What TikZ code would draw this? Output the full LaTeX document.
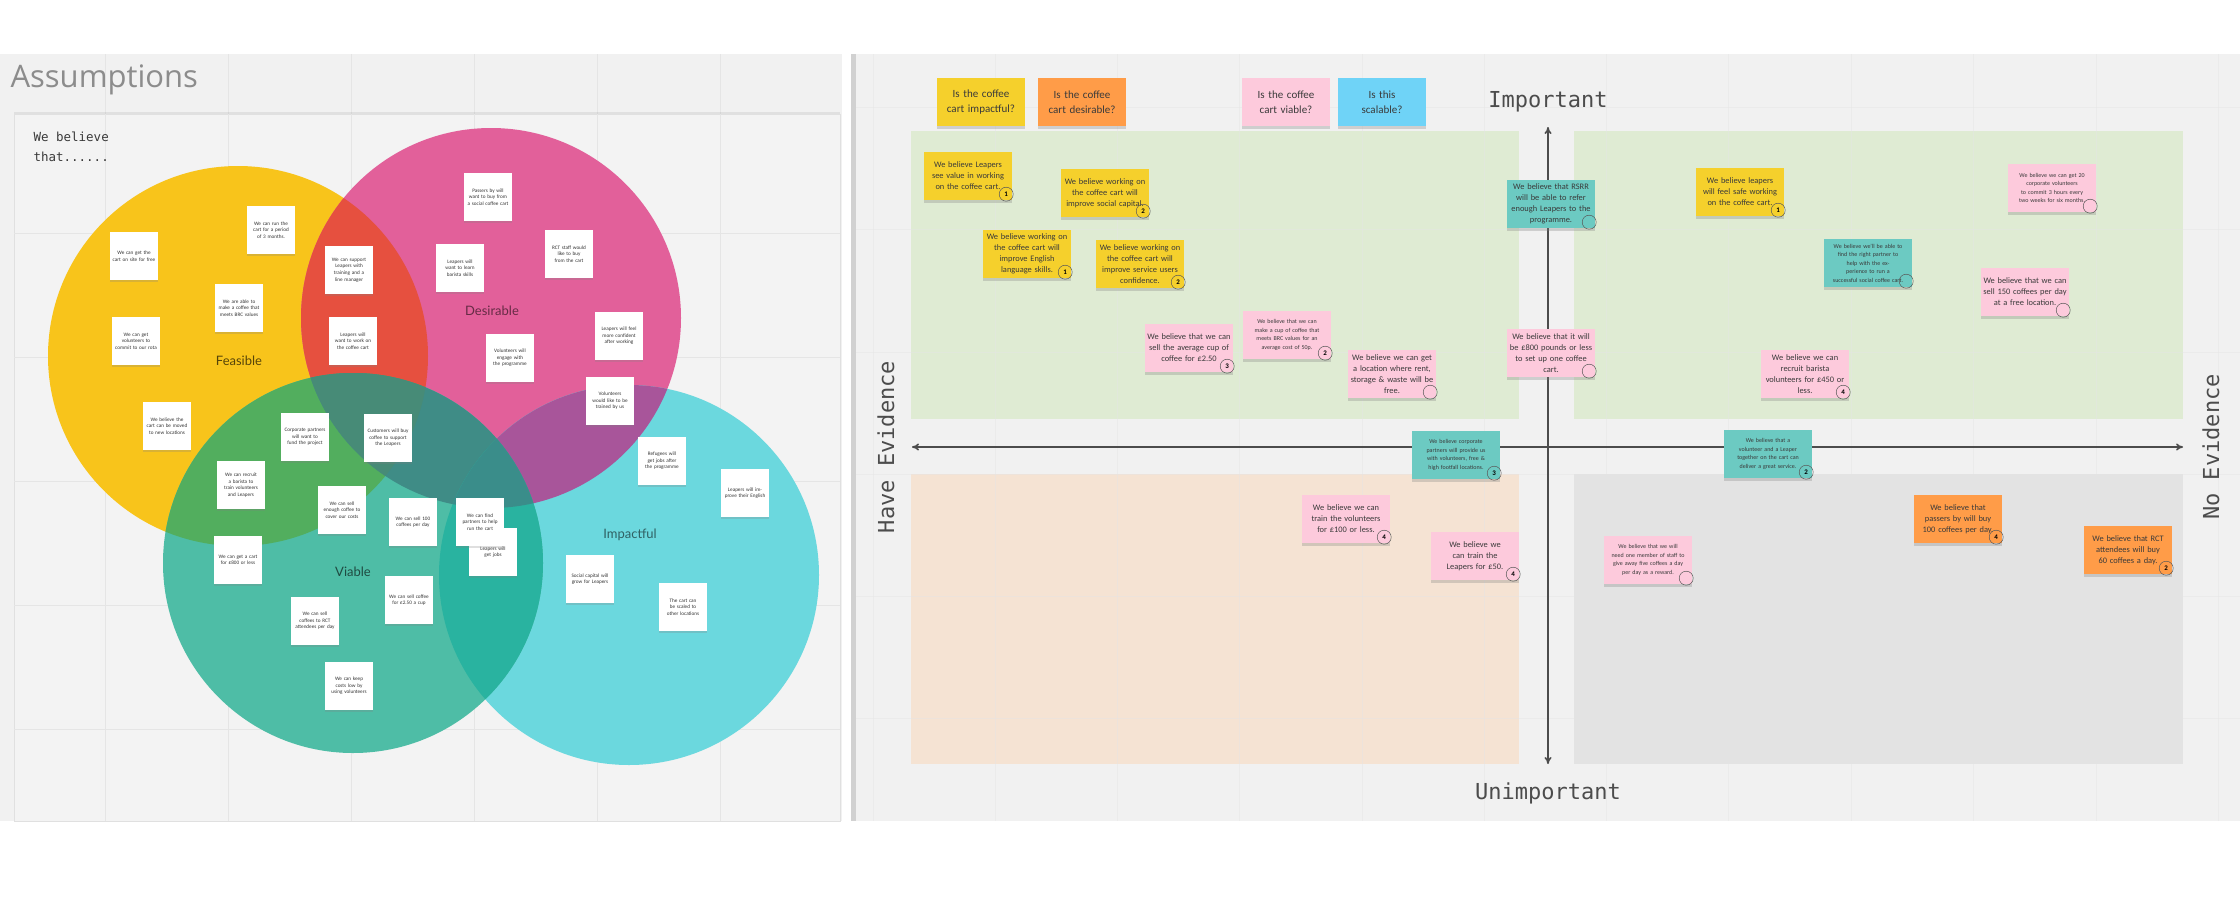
\documentclass[tikz,border=0pt]{standalone}
\usepackage{fontspec}
\setmainfont{Carlito}
\newfontfamily\titlefont{Open Sans}
\newfontfamily\labelfont{Lato}
\newfontfamily\monofont{DejaVu Sans Mono}
\usepackage{tikz}
\usetikzlibrary{arrows.meta,positioning,shadows,calc}
\definecolor{panelbg}{HTML}{F1F1F1}
\definecolor{framebg}{HTML}{F3F3F3}
\definecolor{gridcol}{HTML}{E5E5E5}
\definecolor{feasible}{HTML}{F8C41B}
\definecolor{desirable}{HTML}{E2609A}
\definecolor{viable}{HTML}{4EBDA6}
\definecolor{impactful}{HTML}{6BD8DE}
\definecolor{fdover}{HTML}{E6503F}
\definecolor{fvover}{HTML}{52AE5E}
\definecolor{dvover}{HTML}{3F8C86}
\definecolor{diover}{HTML}{A8559A}
\definecolor{viover}{HTML}{29B3A0}
\definecolor{fdvover}{HTML}{478B77}
\definecolor{dviover}{HTML}{3A8D8A}
\definecolor{stickyyellow}{HTML}{F5D02C}
\definecolor{stickyorange}{HTML}{FF9C48}
\definecolor{stickypink}{HTML}{FDCADC}
\definecolor{stickyblue}{HTML}{6FD3F7}
\definecolor{stickyteal}{HTML}{6CCAC2}
\definecolor{quadgreen}{HTML}{DFEBD3}
\definecolor{quadorange}{HTML}{F5E3D3}
\definecolor{quadgray}{HTML}{E3E3E3}
\definecolor{inktext}{HTML}{3A3A3A}
\tikzset{
  gridline/.style={draw=gridcol, line width=1pt},
  vnote/.style={
    fill=white, minimum width=48pt, minimum height=48pt, text width=43pt,
    align=center, inner sep=2pt, text=black!80,
    font=\fontsize{5.2}{6.6}\selectfont,
    drop shadow={shadow xshift=0pt, shadow yshift=-2pt, opacity=.25},
  },
  sticky/.style={
    fill=#1, minimum width=88pt, minimum height=48pt, text width=84pt,
    align=center, inner sep=2pt, text=inktext,
    font=\fontsize{8.4}{11}\selectfont,
    drop shadow={shadow xshift=0pt, shadow yshift=-3pt, opacity=.3},
  },
  smalltext/.style={font=\fontsize{6}{8.5}\selectfont},
  catnote/.style={sticky=#1, font=\fontsize{11}{15}\selectfont},
  numtag/.style={circle, draw=black!65, line width=.5pt, inner sep=0pt,
    minimum size=14pt, font=\fontsize{7}{7}\selectfont\bfseries},
  axis/.style={{To[length=7pt,width=7pt]}-{To[length=7pt,width=7pt]},
    draw=black!70, line width=1.6pt},
  axislabel/.style={font=\monofont\fontsize{22}{22}\selectfont, text=black!70},
  vennlabel/.style={font=\labelfont\fontsize{13}{13}\selectfont},
}
\newcommand{\notenum}[2]{\node[numtag] (#1num) at ([xshift=-6pt,yshift=6pt]#1.south east) {#2};}

\begin{document}
\begin{tikzpicture}[x=1pt,y=-1pt]
\useasboundingbox[fill=white] (0,0) rectangle (2240,900);

% ---------- left panel: Venn ----------
\fill[panelbg] (0,54) rectangle (842,821);
\foreach \gx in {105,228,351,474,597,720}
  \draw[gridline] (\gx,54) -- (\gx,821);
\path[fill=framebg, draw=black!12, drop shadow={shadow xshift=0pt, shadow yshift=2pt, opacity=.15}]
  (14,114) rectangle (840,821);
\foreach \gx in {105,228,351,474,597,720}
  \draw[gridline] (\gx,114) -- (\gx,821);
\foreach \gy in {233,357,481,605,729}
  \draw[gridline] (14,\gy) -- (840,\gy);

\node[font=\titlefont\fontsize{31}{31}\selectfont, text=black!45, anchor=west] (title) at (7,80) {Assumptions};
\node[font=\monofont\fontsize{12.5}{20}\selectfont, text=inktext, align=left, anchor=north west] (webelieve) at (30,128) {We believe\\that......};

\coordinate (feas) at (238,356);
\coordinate (desi) at (491,318);
\coordinate (viab) at (353,563);
\coordinate (impa) at (629,575);

\fill[feasible] (feas) circle[radius=190];
\fill[desirable] (desi) circle[radius=190];
\fill[impactful] (impa) circle[radius=190];
\fill[viable] (viab) circle[radius=190];
\begin{scope}
  \clip (feas) circle[radius=190];
  \fill[fdover] (desi) circle[radius=190];
  \fill[fvover] (viab) circle[radius=190];
\end{scope}
\begin{scope}
  \clip (desi) circle[radius=190];
  \fill[diover] (impa) circle[radius=190];
  \fill[dvover] (viab) circle[radius=190];
\end{scope}
\begin{scope}
  \clip (viab) circle[radius=190];
  \fill[viover] (impa) circle[radius=190];
\end{scope}
\begin{scope}
  \clip (feas) circle[radius=190];
  \clip (desi) circle[radius=190];
  \fill[fdvover] (viab) circle[radius=190];
\end{scope}
\begin{scope}
  \clip (desi) circle[radius=190];
  \clip (impa) circle[radius=190];
  \fill[dviover] (viab) circle[radius=190];
\end{scope}

\node[vennlabel, text=black!65!feasible] (feaslabel) at (239,361) {Feasible};
\node[vennlabel, text=black!55!desirable] (desilabel) at (492,311) {Desirable};
\node[vennlabel, text=black!60!viable] (viablabel) at (353,572) {Viable};
\node[vennlabel, text=black!55!impactful] (impalabel) at (630,535) {Impactful};

% white notes
\node[vnote] (vn1) at (134,256) {We can get the cart on site for free};
\node[vnote] (vn2) at (271,230) {We can run the cart for a period of 3 months.};
\node[vnote] (vn3) at (239,308) {We are able to make a coffee that meets BRC values};
\node[vnote] (vn4) at (136,341) {We can get volunteers to commit to our rota};
\node[vnote] (vn5) at (349,270) {We can support Leapers with training and a line manager};
\node[vnote] (vn6) at (353,341) {Leapers will want to work on the coffee cart};
\node[vnote] (vn7) at (167,426) {We believe the cart can be moved to new locations};
\node[vnote] (vn8) at (305,437) {Corporate partners will want to fund the project};
\node[vnote] (vn9) at (388,438) {Customers will buy coffee to support the Leapers};
\node[vnote] (vn10) at (241,485) {We can recruit a barista to train volunteers and Leapers};
\node[vnote] (vn11) at (488,197) {Passers by will want to buy from a social coffee cart};
\node[vnote] (vn12) at (460,268) {Leapers will want to learn barista skills};
\node[vnote] (vn13) at (569,254) {RCT staff would like to buy from the cart};
\node[vnote] (vn14) at (510,358) {Volunteers will engage with the programme};
\node[vnote] (vn15) at (619,336) {Leapers will feel more confident after working};
\node[vnote] (vn16) at (610,401) {Volunteers would like to be trained by us};
\node[vnote] (vn17) at (342,510) {We can sell enough coffee to cover our costs};
\node[vnote] (vn18) at (413,522) {We can sell 100 coffees per day};
\node[vnote] (vn19b) at (493,552) {Leapers will get jobs};
\node[vnote] (vn19) at (480,522) {We can find partners to help run the cart};
\node[vnote] (vn20) at (238,560) {We can get a cart for £800 or less};
\node[vnote] (vn21) at (409,600) {We can sell coffee for £2.50 a cup};
\node[vnote] (vn22) at (315,621) {We can sell coffees to RCT attendees per day};
\node[vnote] (vn23) at (349,686) {We can keep costs low by using volunteers};
\node[vnote] (vn24) at (662,461) {Refugees will get jobs after the programme};
\node[vnote] (vn25) at (745,493) {Leapers will improve their English};
\node[vnote] (vn26) at (590,579) {Social capital will grow for Leapers};
\node[vnote] (vn27) at (683,607) {The cart can be scaled to other locations};

% ---------- right panel: evidence / importance ----------
\fill[black!18] (851,54) rectangle (856,821);
\fill[panelbg] (856,54) rectangle (2240,821);
\fill[quadgreen] (911,131) rectangle (1519,419);
\fill[quadgreen] (1574,131) rectangle (2183,419);
\fill[quadorange] (911,474) rectangle (1519,764);
\fill[quadgray] (1574,474) rectangle (2183,764);
\begin{scope}[opacity=.45]
  \foreach \gx in {873,995,1117,1239,1362,1484,1606,1728,1851,1973,2096,2218}
    \draw[gridline] (\gx,54) -- (\gx,821);
  \foreach \gy in {107,229,352,474,596,718}
    \draw[gridline] (856,\gy) -- (2240,\gy);
\end{scope}

\coordinate (imp) at (1548,127);
\coordinate (unimp) at (1548,764);
\coordinate (haveev) at (912,447);
\coordinate (noev) at (2183,447);
\draw[axis] (unimp) -- (imp);
\draw[axis] (haveev) -- (noev);

\node[axislabel] (implabel) at (1548,102) {Important};
\node[axislabel] (unimplabel) at (1548,793) {Unimportant};
\node[axislabel, rotate=90] (havelabel) at (886,447) {Have Evidence};
\node[axislabel, rotate=90] (nolabel) at (2211,447) {No Evidence};

% question notes
\node[catnote=stickyyellow] (qimpact) at (981,102) {Is the coffee\\cart impactful?};
\node[catnote=stickyorange] (qdesire) at (1082,102) {Is the coffee\\cart desirable?};
\node[catnote=stickypink] (qviable) at (1286,102) {Is the coffee\\cart viable?};
\node[catnote=stickyblue] (qscale) at (1382,102) {Is this\\scalable?};

% important, have evidence
\node[sticky=stickyyellow] (seevalue) at (968,176) {We believe Leapers\\see value in working\\on the coffee cart.};
\notenum{seevalue}{1}
\node[sticky=stickyyellow] (social) at (1105,193) {We believe working on\\the coffee cart will\\improve social capital.};
\notenum{social}{2}
\node[sticky=stickyyellow] (english) at (1027,254) {We believe working on\\the coffee cart will\\improve English\\language skills.};
\notenum{english}{1}
\node[sticky=stickyyellow] (confidence) at (1140,264) {We believe working on\\the coffee cart will\\improve service users\\confidence.};
\notenum{confidence}{2}
\node[sticky=stickypink] (cupprice) at (1189,348) {We believe that we can\\sell the average cup of\\coffee for £2.50};
\notenum{cupprice}{3}
\node[sticky=stickypink, smalltext] (cupcost) at (1287,335) {We believe that we can\\make a cup of coffee that\\meets BRC values for an\\average cost of 50p.};
\notenum{cupcost}{2}
\node[sticky=stickypink] (location) at (1392,374) {We believe we can get\\a location where rent,\\storage \& waste will be\\free.};
\notenum{location}{}
\node[sticky=stickyteal] (referral) at (1551,204) {We believe that RSRR\\will be able to refer\\enough Leapers to the\\programme.};
\notenum{referral}{}
\node[sticky=stickypink] (setup) at (1551,353) {We believe that it will\\be £800 pounds or less\\to set up one coffee\\cart.};
\notenum{setup}{}

% important, no evidence
\node[sticky=stickyyellow] (safe) at (1740,192) {We believe leapers\\will feel safe working\\on the coffee cart.};
\notenum{safe}{1}
\node[sticky=stickypink, smalltext] (corpvol) at (2052,188) {We believe we can get 20\\corporate volunteers\\to commit 3 hours every\\two weeks for six months.};
\notenum{corpvol}{}
\node[sticky=stickyteal, smalltext] (partner) at (1868,263) {We believe we'll be able to\\find the right partner to\\help with the experience to run a\\successful social coffee cart.};
\notenum{partner}{}
\node[sticky=stickypink] (sellfree) at (2025,292) {We believe that we can\\sell 150 coffees per day\\at a free location.};
\notenum{sellfree}{}
\node[sticky=stickypink] (barista) at (1805,374) {We believe we can\\recruit barista\\volunteers for £450 or\\less.};
\notenum{barista}{4}

% unimportant, have evidence
\node[sticky=stickyteal, smalltext] (corporate) at (1456,455) {We believe corporate\\partners will provide us\\with volunteers, free \&\\high footfall locations.};
\notenum{corporate}{3}
\node[sticky=stickypink] (trainvol) at (1346,519) {We believe we can\\train the volunteers\\for £100 or less.};
\notenum{trainvol}{4}
\node[sticky=stickypink] (trainleap) at (1475,556) {We believe we\\can train the\\Leapers for £50.};
\notenum{trainleap}{4}

% unimportant, no evidence
\node[sticky=stickyteal, smalltext] (together) at (1768,454) {We believe that a\\volunteer and a Leaper\\together on the cart can\\deliver a great service.};
\notenum{together}{2}
\node[sticky=stickypink, smalltext] (giveaway) at (1648,560) {We believe that we will\\need one member of staff to\\give away five coffees a day\\per day as a reward.};
\notenum{giveaway}{}
\node[sticky=stickyorange] (passers) at (1958,519) {We believe that\\passers by will buy\\100 coffees per day.};
\notenum{passers}{4}
\node[sticky=stickyorange] (rct) at (2128,550) {We believe that RCT\\attendees will buy\\60 coffees a day.};
\notenum{rct}{2}

\end{tikzpicture}
\end{document}
